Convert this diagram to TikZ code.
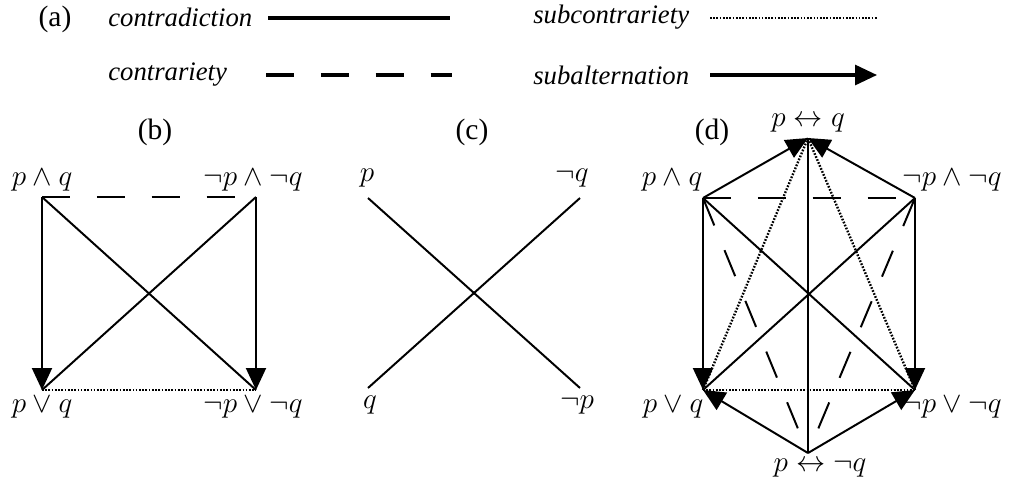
\documentclass[tikz,border=0pt]{standalone}
\usepackage{fontspec}
\setmainfont{Liberation Serif}
\usetikzlibrary{arrows.meta}

\begin{document}
\begin{tikzpicture}[x=0.025cm, y=-0.025cm,
    lbl/.style={font=\fontsize{21}{24}\selectfont, inner sep=0pt},
    legend/.style={font=\fontsize{19}{22}\selectfont\itshape, inner sep=0pt, anchor=west},
    contradiction/.style={line width=1.4pt},
    contrariety/.style={line width=1.4pt, dash pattern=on 20pt off 19pt},
    subcontrariety/.style={line width=1.7pt, dash pattern=on 1.2pt off 1.1pt},
    subalternation/.style={line width=1.4pt, -{Triangle[length=0.55cm, width=0.5cm]}},
    key/.style={line width=2.2pt}
]
\useasboundingbox (0,0) rectangle (1013,489);

% (a) legend
\node[lbl] (a) at (55,19) {(a)};
\node[legend] (t1) at (108,17) {contradiction};
\node[legend] (t2) at (533,17) {subcontrariety};
\node[legend] (t3) at (108,75) {contrariety};
\node[legend] (t4) at (533,75) {subalternation};
\coordinate (l1a) at (268,18);  \coordinate (l1b) at (450,18);
\coordinate (l2a) at (710,18);  \coordinate (l2b) at (877,18);
\coordinate (l3a) at (266,75);  \coordinate (l3b) at (452,75);
\coordinate (l4a) at (710,75);  \coordinate (l4b) at (877,75);
\draw[contradiction, key] (l1a) -- (l1b);
\draw[subcontrariety] (l2a) -- (l2b);
\draw[contrariety, key] (l3a) -- (l3b);
\draw[subalternation, key] (l4a) -- (l4b);

% (b) square
\node[lbl] (b) at (155,132) {(b)};
\coordinate (b1) at (42,197);
\coordinate (b2) at (256,197);
\coordinate (b3) at (42,390);
\coordinate (b4) at (256,390);
\node[lbl] (pb1) at (42,180) {$p \wedge q$};
\node[lbl] (pb2) at (253,180) {$\neg p \wedge \neg q$};
\node[lbl] (pb3) at (42,407) {$p \vee q$};
\node[lbl] (pb4) at (253,407) {$\neg p \vee \neg q$};
\draw[subcontrariety] (b3) -- (b4);
\draw[contrariety] (b1) -- (b2);
\draw[contradiction] (b1) -- (b4);
\draw[contradiction] (b2) -- (b3);
\draw[subalternation] (b1) -- (b3);
\draw[subalternation] (b2) -- (b4);

% (c) cross
\node[lbl] (c) at (472,132) {(c)};
\coordinate (c1) at (368,198);
\coordinate (c2) at (580,198);
\coordinate (c3) at (368,388);
\coordinate (c4) at (580,388);
\node[lbl] (pc1) at (367,178) {$p$};
\node[lbl] (pc2) at (572,178) {$\neg q$};
\node[lbl] (pc3) at (370,405) {$q$};
\node[lbl] (pc4) at (577,405) {$\neg p$};
\draw[contradiction] (c1) -- (c4);
\draw[contradiction] (c2) -- (c3);

% (d) hexagon
\node[lbl] (d) at (712,132) {(d)};
\coordinate (d1) at (808,138);
\coordinate (d2) at (703,198);
\coordinate (d3) at (915,198);
\coordinate (d4) at (703,390);
\coordinate (d5) at (915,390);
\coordinate (d6) at (808,453);
\node[lbl] (pd1) at (808,123) {$p \leftrightarrow q$};
\node[lbl] (pd2) at (672,180) {$p \wedge q$};
\node[lbl] (pd3) at (952,180) {$\neg p \wedge \neg q$};
\node[lbl] (pd4) at (673,407) {$p \vee q$};
\node[lbl] (pd5) at (952,407) {$\neg p \vee \neg q$};
\node[lbl] (pd6) at (820,468) {$p \leftrightarrow \neg q$};
\draw[subcontrariety] (d4) -- (d5);
\draw[subcontrariety] (d4) -- (d1);
\draw[subcontrariety] (d5) -- (d1);
\draw[contrariety] (d2) -- (d3);
\draw[contrariety, dash phase=20pt] (d6) -- (d2);
\draw[contrariety, dash phase=20pt] (d6) -- (d3);
\draw[contradiction] (d2) -- (d5);
\draw[contradiction] (d3) -- (d4);
\draw[contradiction] (d1) -- (d6);
\draw[subalternation] (d2) -- (d1);
\draw[subalternation] (d3) -- (d1);
\draw[subalternation] (d2) -- (d4);
\draw[subalternation] (d3) -- (d5);
\draw[subalternation] (d6) -- (d4);
\draw[subalternation] (d6) -- (d5);
\end{tikzpicture}
\end{document}
